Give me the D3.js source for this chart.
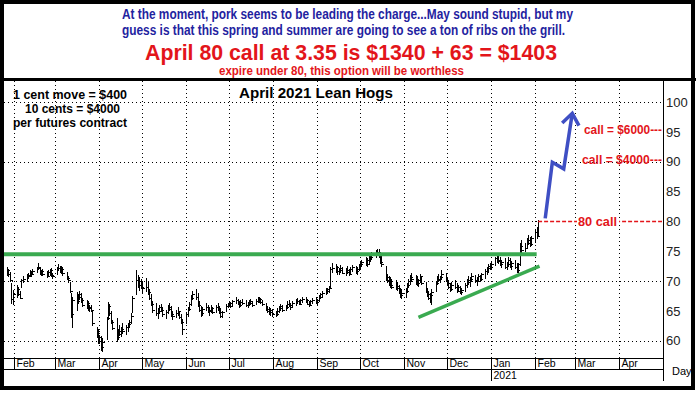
<!DOCTYPE html>
<html><head><meta charset="utf-8">
<script src="https://cdn.jsdelivr.net/npm/d3@7"></script>
<style>body{margin:0;background:#fff}svg{display:block}</style>
</head><body>
<svg id="c" width="696" height="394"></svg>
<script>
// ---------- DATA ----------
const firstBarDate = "2020-01-27";
// daily bars [high, low, close], one line per week (Mon..Fri)
const bars = [
[72.3,70.8,71.8],[72.0,70.6,71.2],[71.5,69.8,70.2],[69.6,66.2,67.0],[68.5,66.0,67.8],
[69.4,67.2,68.6],[69.0,67.5,67.9],[68.4,67.0,67.2],[70.4,68.8,70.1],[70.8,69.6,70.4],
[71.2,69.9,70.9],[71.4,70.3,71.0],[71.8,70.6,71.5],[71.6,70.7,71.2],[72.0,71.0,71.7],
[72.4,71.3,72.1],[73.1,71.9,72.3],[72.4,71.0,71.4],[71.9,70.8,71.6],[72.0,70.9,71.2],
[71.6,70.5,70.9],[71.8,70.7,71.5],[72.0,70.9,71.8],[72.1,70.6,71.0],[71.4,70.4,70.9],
[72.4,71.0,72.2],[72.9,71.6,72.1],[72.6,71.3,71.8],[72.5,71.2,72.0],[72.3,70.9,71.3],
[71.5,70.2,70.5],[70.9,69.6,70.2],[69.8,68.0,68.4],[68.0,63.8,64.5],[67.3,62.2,66.8],
[68.2,65.0,66.6],[67.8,66.2,67.4],[68.3,66.8,67.9],[68.0,66.4,66.8],[67.2,65.6,66.0],
[66.9,65.3,66.4],[66.6,65.0,65.4],[66.0,64.8,65.7],[66.0,64.8,65.2],[64.9,62.5,63.0],
[62.3,60.5,61.6],[62.0,59.5,60.0],[61.0,59.4,60.6],[60.8,58.3,58.9],[60.5,58.1,59.8],
[64.0,60.2,63.8],[66.5,63.5,65.8],[66.2,64.2,64.6],[65.0,62.8,63.2],[63.4,61.8,62.1],
[63.8,59.7,60.6],[62.0,60.2,61.6],[62.6,60.8,61.2],[62.3,60.6,62.0],[62.9,61.2,61.7],
[62.6,60.9,62.3],[63.0,61.5,62.8],[63.5,62.2,63.2],[64.6,62.8,64.2],[67.5,64.6,67.2],
[71.8,67.6,70.2],[71.0,68.8,69.4],[70.6,68.4,70.0],[70.3,68.6,69.0],[70.0,68.0,68.8],
[70.5,68.2,69.0],[69.8,67.6,68.1],[68.6,66.8,67.2],[67.8,65.8,66.2],[66.6,64.6,65.2],
[66.3,64.2,64.6],[65.4,63.6,65.0],[66.0,64.4,65.6],[66.2,64.8,65.2],[65.6,64.0,64.4],
[65.2,63.6,64.8],[66.0,64.4,65.7],[66.3,64.9,65.3],[65.8,64.0,64.5],[65.0,63.5,64.2],
[65.2,63.8,64.6],[65.6,64.2,65.0],[65.0,63.6,64.0],[64.4,62.8,63.2],[63.6,61.0,62.0],
[64.8,62.8,64.5],[65.6,64.0,65.3],[66.5,65.0,66.2],[67.6,65.8,67.2],[68.3,66.8,67.8],
[68.7,66.9,67.4],[68.0,65.6,66.0],[66.6,64.8,65.2],[65.8,64.0,64.6],[65.6,64.2,65.3],
[66.4,65.0,65.6],[66.0,64.6,64.9],[65.6,64.2,65.1],[65.9,64.6,65.4],[65.7,64.5,64.8],
[66.0,64.6,65.6],[66.4,65.0,65.2],[65.8,64.4,64.8],[65.4,63.8,64.2],[65.0,63.8,64.8],
[66.2,64.8,65.8],[66.4,65.4,66.0],[66.6,65.6,66.3],[66.5,65.5,65.8],[66.8,65.6,66.6],
[67.3,66.2,66.8],[67.0,65.9,66.2],[66.6,65.5,66.0],[66.8,65.6,66.5],[67.0,65.9,66.3],
[66.8,65.6,66.0],[66.5,65.4,66.2],[66.9,65.8,66.6],[67.0,66.0,66.3],[66.7,65.6,65.9],
[67.0,65.9,66.6],[67.3,66.3,66.9],[67.4,66.4,67.0],[67.2,66.2,66.5],[66.9,65.8,66.1],
[66.4,65.0,65.3],[65.8,64.6,65.0],[65.6,64.3,64.8],[65.5,64.2,65.2],[65.3,64.0,64.4],
[65.0,63.9,64.5],[65.4,64.2,65.0],[65.8,64.6,65.5],[66.2,64.9,65.8],[66.0,64.8,65.2],
[66.0,64.9,65.6],[66.6,65.3,66.2],[66.8,65.6,66.0],[66.4,65.2,65.6],[66.7,65.4,66.4],
[67.0,65.8,66.7],[67.2,66.2,66.6],[66.9,65.9,66.2],[67.0,66.0,66.8],[67.3,66.3,67.0],
[67.4,66.3,66.8],[67.0,65.9,66.2],[66.6,65.6,66.0],[66.9,65.8,66.6],[67.2,66.2,66.9],
[67.3,66.1,66.5],[67.0,66.0,66.8],[67.6,66.5,67.4],[68.0,67.0,67.8],[68.3,67.2,68.0],
[68.8,67.6,68.4],[68.9,67.8,68.6],[69.2,68.0,68.9],[72.4,68.8,72.0],[73.0,71.4,72.2],
[72.8,71.4,72.4],[72.6,71.0,71.6],[72.2,71.0,71.8],[72.7,71.4,72.1],[72.4,71.1,71.4],
[72.2,70.9,71.8],[72.5,71.2,71.5],[72.0,70.8,71.2],[72.3,71.0,72.0],[72.7,71.5,72.3],
[72.6,71.2,71.6],[72.3,71.0,72.0],[72.8,71.6,72.5],[73.2,72.0,72.8],[73.6,72.4,73.2],
[74.0,72.6,73.6],[73.8,72.4,72.9],[74.2,72.8,73.8],[74.6,73.2,74.1],[74.8,73.6,74.4],
[75.2,73.8,74.8],[75.4,74.2,74.6],[75.3,73.9,74.2],[74.8,72.8,73.2],[74.0,72.4,72.8],
[72.6,70.0,70.6],[71.2,69.6,70.2],[70.8,69.2,69.6],[70.6,68.8,69.4],[70.4,68.6,69.0],
[70.2,68.5,69.2],[69.8,68.4,68.8],[69.4,67.8,68.2],[68.8,67.2,67.6],[68.6,67.0,68.0],
[68.8,67.2,68.4],[69.6,68.0,69.3],[70.4,68.8,70.0],[71.0,69.4,70.6],[71.3,69.8,70.4],
[71.0,69.4,70.2],[70.8,69.2,69.6],[70.4,69.0,70.1],[71.2,69.6,70.8],[70.9,69.3,69.7],
[69.8,68.0,68.4],[68.8,67.4,67.9],[68.4,66.8,67.2],[68.0,66.4,67.6],[68.6,66.0,68.2],
[70.0,68.2,69.7],[70.8,69.3,70.4],[71.2,69.8,70.2],[70.9,69.6,70.6],[71.8,70.2,71.2],
[71.4,69.8,70.2],[70.7,69.2,69.6],[70.2,68.6,69.0],[69.6,68.2,68.6],[69.8,68.4,69.4],
[70.2,68.6,69.0],[69.6,68.0,68.4],[69.4,68.2,69.0],[69.2,67.9,68.2],[68.8,67.7,68.5],
[69.6,68.2,69.3],[70.4,68.9,70.1],[70.8,69.4,69.8],[70.6,69.0,70.3],[71.3,69.8,70.8],
[71.0,69.6,70.2],[70.6,69.2,70.0],[71.2,69.8,70.9],[71.0,69.8,70.4],[71.4,70.0,71.1],
[72.0,70.4,71.6],[72.4,71.0,72.1],[72.8,71.4,72.6],[73.0,71.8,72.4],[73.2,72.0,72.9],
[74.0,72.6,73.8],[74.4,73.0,73.6],[74.2,72.8,73.4],[74.0,72.6,72.9],[73.6,72.2,73.2],
[73.8,72.0,72.4],[73.2,71.8,72.8],[74.0,72.4,73.6],[73.9,72.2,72.6],[73.4,71.9,73.0],
[73.6,72.0,72.4],[73.0,71.3,71.8],[73.0,71.4,72.8],[76.4,72.6,75.9],[76.9,74.7,75.2],
[76.4,74.8,75.6],[77.2,75.4,76.9],[77.7,76.0,76.4],[77.4,75.7,76.2],[77.6,75.9,77.2],
[78.6,76.4,78.2],[79.0,77.0,77.6],[80.2,77.4,80.0]
];
const xDomain = ["2020-01-25", "2021-05-01"];
const monthStarts = ["2020-02-01","2020-03-01","2020-04-01","2020-05-01","2020-06-01","2020-07-01",
  "2020-08-01","2020-09-01","2020-10-01","2020-11-01","2020-12-01","2021-01-01","2021-02-01",
  "2021-03-01","2021-04-01"];
const monthLabels = ["Feb","Mar","Apr","May","Jun","Jul","Aug","Sep","Oct","Nov","Dec","Jan","Feb","Mar","Apr"];
const yearLabel = {date: "2021-01-01", text: "2021"};
const yDomain = [60, 100];
const yTickValues = [60, 65, 70, 75, 80, 85, 90, 95, 100];
const yGridValues = [60, 70, 80, 90, 100];
const resistanceLevel = 74.5;
const resistanceEnd = "2021-02-02";
const trendLine = [["2020-11-11", 63.9], ["2021-02-04", 72.5]];
const projection = [["2021-02-08", 80.5], ["2021-02-13", 89.9], ["2021-02-21", 88.8], ["2021-02-27", 98.1]];
const strikeLevel = {value: 80, start: "2021-02-03", label: "80 call"};
const callLabels = [{value: 95, text: "call = $6000---"}, {value: 90, text: "call = $4000---"}];
const headerBlue = ["At the moment, pork seems to be leading the charge...May sound stupid, but my",
  "guess is that this spring and summer are going to see a ton of ribs on the grill."];
const headerRed = "April 80 call at 3.35 is $1340 + 63 = $1403";
const headerRedSmall = "expire under 80, this option will be worthless";
const chartTitle = "April 2021 Lean Hogs";
const contractNotes = ["1 cent move = $400", "10 cents = $4000", "per futures contract"];
const xAxisUnit = "Day";

// ---------- DRAW ----------
const P = d3.utcParse("%Y-%m-%d");
const svg = d3.select("#c");
const L = 4, R = 663, T = 81, B = 358;
const x = d3.scaleUtc().domain(xDomain.map(P)).range([4, 662]);
const y = d3.scaleLinear().domain(yDomain).range([340.7, 102]);
const SANS = "'Liberation Sans', Arial, sans-serif";
const NARROW = "'Liberation Sans Narrow','Arial Narrow','Liberation Sans',Arial,sans-serif";

svg.append("rect").attr("width", 696).attr("height", 394).attr("fill", "#fff");

// header
const hdr = svg.append("g").attr("font-family", NARROW).attr("text-anchor", "middle");
const blueBase = [19, 35];
headerBlue.forEach((t, i) => {
  hdr.append("text").attr("x", i ? 343.5 : 347.5).attr("y", blueBase[i])
    .attr("font-size", 14).attr("font-weight", "bold").attr("fill", "#1f23a0")
    .attr("textLength", i ? 443 : 451).attr("lengthAdjust", "spacingAndGlyphs").text(t);
});
hdr.append("text").attr("x", 351).attr("y", 60).attr("font-size", 22).attr("font-weight", "bold")
  .attr("fill", "#e3151a").attr("textLength", 412).attr("lengthAdjust", "spacingAndGlyphs").text(headerRed);
hdr.append("text").attr("x", 341.5).attr("y", 75).attr("font-size", 12).attr("font-weight", "bold")
  .attr("fill", "#e3151a").attr("textLength", 245).attr("lengthAdjust", "spacingAndGlyphs").text(headerRedSmall);

// dotted grid
const grid = svg.append("g").attr("stroke", "#000").attr("stroke-width", 1).attr("stroke-dasharray", "1,3");
monthStarts.forEach(d => {
  const xx = Math.round(x(P(d))) + 0.5;
  grid.append("line").attr("x1", xx).attr("x2", xx).attr("y1", T).attr("y2", B);
});
yGridValues.forEach(v => {
  const yy = Math.round(y(v)) + 0.5;
  const xEnd = v === strikeLevel.value ? x(P(strikeLevel.start)) : R;
  grid.append("line").attr("x1", L).attr("x2", xEnd).attr("y1", yy).attr("y2", yy);
});

// title + notes
svg.append("text").attr("x", 316).attr("y", 98).attr("text-anchor", "middle")
  .attr("font-family", SANS).attr("font-size", 15).attr("font-weight", "bold")
  .attr("textLength", 154).attr("lengthAdjust", "spacingAndGlyphs").text(chartTitle);
const noteX = [70, 72.5, 70], noteY = [99, 113, 127], noteW = [114, 95, 114];
contractNotes.forEach((t, i) => {
  svg.append("text").attr("x", noteX[i]).attr("y", noteY[i]).attr("text-anchor", "middle")
    .attr("font-family", SANS).attr("font-size", 12).attr("font-weight", "bold")
    .attr("textLength", noteW[i]).attr("lengthAdjust", "spacingAndGlyphs").text(t);
});

// bars
const dates = [];
let d = P(firstBarDate);
while (dates.length < bars.length) {
  const wd = d.getUTCDay();
  if (wd !== 0 && wd !== 6) dates.push(d);
  d = d3.utcDay.offset(d, 1);
}
const bg = svg.append("g").attr("stroke", "#000").attr("stroke-width", 1).attr("shape-rendering", "crispEdges");
bars.forEach((b, i) => {
  const xx = Math.round(x(dates[i])) + 0.5;
  bg.append("line").attr("x1", xx).attr("x2", xx).attr("y1", y(b[0])).attr("y2", y(b[1]));
  const yc = Math.round(y(b[2])) + 0.5;
  bg.append("line").attr("x1", xx).attr("x2", xx + 2).attr("y1", yc).attr("y2", yc);
});

// green lines
const green = "#3aaa50";
svg.append("line").attr("x1", L).attr("x2", x(P(resistanceEnd)))
  .attr("y1", y(resistanceLevel)).attr("y2", y(resistanceLevel))
  .attr("stroke", green).attr("stroke-width", 4);
svg.append("line")
  .attr("x1", x(P(trendLine[0][0]))).attr("y1", y(trendLine[0][1]))
  .attr("x2", x(P(trendLine[1][0]))).attr("y2", y(trendLine[1][1]))
  .attr("stroke", green).attr("stroke-width", 3.5);

// strike line
const red = "#e3151a";
const sy = Math.round(y(strikeLevel.value)) + 0.5;
svg.append("line").attr("x1", x(P(strikeLevel.start))).attr("x2", R - 1).attr("y1", sy).attr("y2", sy)
  .attr("stroke", red).attr("stroke-width", 1.4).attr("stroke-dasharray", "4,2");
svg.append("rect").attr("x", 577).attr("y", sy - 7).attr("width", 42).attr("height", 13).attr("fill", "#fff");
svg.append("text").attr("x", 578).attr("y", sy + 4).attr("font-family", SANS).attr("font-size", 12)
  .attr("font-weight", "bold").attr("fill", red).attr("textLength", 39).attr("lengthAdjust", "spacingAndGlyphs")
  .text(strikeLevel.label);
const callW = [78, 80];
callLabels.forEach((c, i) => {
  svg.append("text").attr("x", 662).attr("y", y(c.value) + 2.5).attr("text-anchor", "end")
    .attr("font-family", SANS).attr("font-size", 12).attr("font-weight", "bold").attr("fill", red)
    .attr("textLength", callW[i]).attr("lengthAdjust", "spacingAndGlyphs").text(c.text);
});

// projection arrow
const blue = "#3f4fc4";
const pts = projection.map(p => [x(P(p[0])), y(p[1])]);
svg.append("path").attr("d", d3.line()(pts)).attr("fill", "none").attr("stroke", blue)
  .attr("stroke-width", 3.5).attr("stroke-linejoin", "miter");
const tip = pts[pts.length - 1], prev = pts[pts.length - 2];
const ang = Math.atan2(tip[1] - prev[1], tip[0] - prev[0]);
const wing = a => [tip[0] - 14 * Math.cos(ang + a), tip[1] - 14 * Math.sin(ang + a)];
svg.append("path").attr("d", d3.line()([wing(0.65), tip, wing(-0.65)])).attr("fill", "none")
  .attr("stroke", blue).attr("stroke-width", 3.5).attr("stroke-linejoin", "miter");

// y axis (right)
const yAxis = d3.axisRight(y).tickValues(yTickValues).tickSize(0).tickPadding(3);
const ya = svg.append("g").attr("transform", `translate(${R},0)`).call(yAxis);
ya.select(".domain").remove();
ya.selectAll("text").attr("font-family", SANS).attr("font-size", 13).attr("fill", "#222");
svg.append("line").attr("x1", R + 0.5).attr("x2", R + 0.5).attr("y1", T).attr("y2", 381)
  .attr("stroke", "#000").attr("stroke-width", 1);

// x axis (month bands)
const xa = svg.append("g").attr("stroke", "#000").attr("stroke-width", 1).attr("shape-rendering", "crispEdges");
xa.append("line").attr("x1", L).attr("x2", R).attr("y1", B + 0.5).attr("y2", B + 0.5);
xa.append("line").attr("x1", L).attr("x2", R).attr("y1", 369.5).attr("y2", 369.5);
monthStarts.forEach((m, i) => {
  const xx = Math.round(x(P(m))) + 0.5;
  const isYear = m === yearLabel.date;
  xa.append("line").attr("x1", xx).attr("x2", xx).attr("y1", B).attr("y2", isYear ? 381 : 369);
  svg.append("text").attr("x", xx + 2).attr("y", 367).attr("font-family", SANS).attr("font-size", 10.5)
    .text(monthLabels[i]);
});
svg.append("text").attr("x", Math.round(x(P(yearLabel.date))) + 2.5).attr("y", 379)
  .attr("font-family", SANS).attr("font-size", 10.5).text(yearLabel.text);
svg.append("text").attr("x", 672).attr("y", 375).attr("font-family", SANS).attr("font-size", 11).text(xAxisUnit);

// frame
svg.append("line").attr("x1", 0).attr("x2", 696).attr("y1", 79.5).attr("y2", 79.5).attr("stroke", "#000").attr("stroke-width", 3);
svg.append("rect").attr("x", 2).attr("y", 2).attr("width", 691).attr("height", 386)
  .attr("fill", "none").attr("stroke", "#000").attr("stroke-width", 4);
</script>
</body></html>
